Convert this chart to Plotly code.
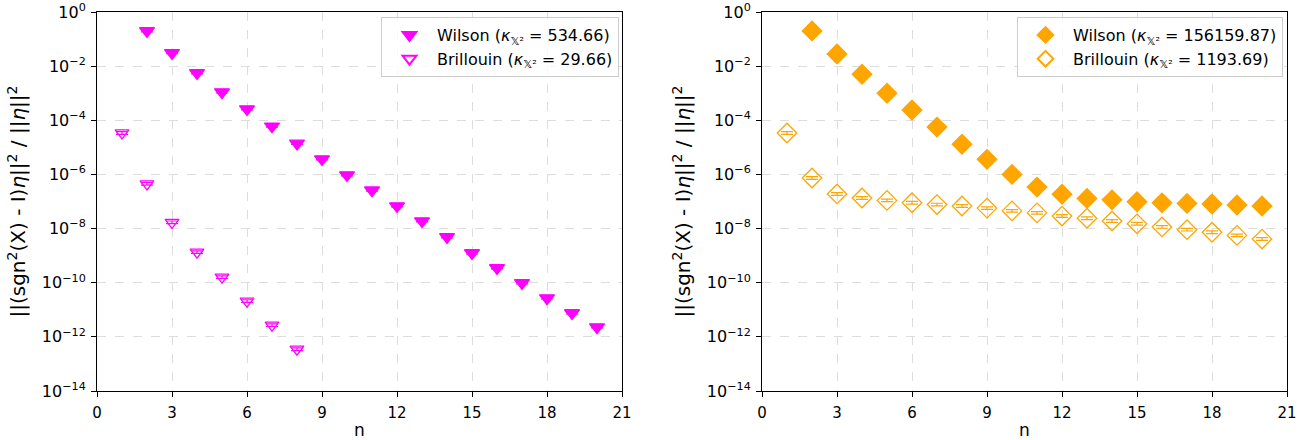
import plotly.graph_objects as go

# ---------------- data ----------------
n_wilson = list(range(2, 21))
n_brill_left = list(range(1, 9))
n_brill_right = list(range(1, 21))

wilson_left = [0.2, 0.031, 5.6e-3, 1.1e-3, 2.6e-4, 6.0e-5, 1.4e-5, 3.7e-6, 9.5e-7, 2.6e-7,
               6.8e-8, 1.9e-8, 4.9e-9, 1.25e-9, 3.5e-10, 9.8e-11, 2.7e-11, 7.6e-12, 2.3e-12]
brill_left = [3.4e-5, 4.5e-7, 1.7e-8, 1.35e-9, 1.6e-10, 2.1e-11, 2.7e-12, 3.5e-13]

wilson_right = [0.2, 0.028, 5.0e-3, 1.0e-3, 2.4e-4, 5.6e-5, 1.3e-5, 3.6e-6, 1.0e-6, 3.4e-7,
                1.85e-7, 1.3e-7, 1.15e-7, 9.8e-8, 8.9e-8, 8.5e-8, 8.1e-8, 7.4e-8, 6.8e-8]
brill_right = [3.4e-5, 7.4e-7, 1.9e-7, 1.35e-7, 1.1e-7, 9.0e-8, 7.7e-8, 6.8e-8, 5.7e-8, 4.5e-8,
               3.8e-8, 2.9e-8, 2.4e-8, 1.9e-8, 1.5e-8, 1.15e-8, 9.1e-9, 7.3e-9, 5.6e-9, 4.1e-9]

# relative error estimates (small)
err_rel_wilson = 0.08
err_rel_brill = 0.12

kappa_left = ["534.66", "29.66"]
kappa_right = ["156159.87", "1193.69"]

x_ticks = [0, 3, 6, 9, 12, 15, 18, 21]
y_exps = [0, -2, -4, -6, -8, -10, -12, -14]

MAGENTA = "#ff00ff"
ORANGE = "#ffa500"
FONT = "DejaVu Sans"

def lab(name, k):
    return f"{name} (<i>κ</i><sub>𝕏²</sub> = {k})"

fig = go.Figure()

def add(x, y, rel, color, symbol, size, name, xa, ya, legend):
    fig.add_trace(go.Scatter(
        x=x, y=y, mode="markers", name=name,
        xaxis=xa, yaxis=ya, legend=legend,
        marker=dict(symbol=symbol, size=size, color=color,
                    line=dict(color=color, width=1.3)),
        error_y=dict(type="data", array=[v * rel for v in y], arrayminus=[v * rel / (1 + rel) for v in y],
                     color=color, thickness=1.2, width=6, visible=True),
    ))

add(n_wilson, wilson_left, err_rel_wilson, MAGENTA, "triangle-down", 13,
    lab("Wilson", kappa_left[0]), "x", "y", "legend")
add(n_brill_left, brill_left, err_rel_brill, MAGENTA, "triangle-down-open", 12,
    lab("Brillouin", kappa_left[1]), "x", "y", "legend")
add(n_wilson, wilson_right, err_rel_wilson, ORANGE, "diamond", 15,
    lab("Wilson", kappa_right[0]), "x2", "y2", "legend2")
add(n_brill_right, brill_right, err_rel_brill, ORANGE, "diamond-open", 15,
    lab("Brillouin", kappa_right[1]), "x2", "y2", "legend2")

W, H = 1313, 440
xd1 = [97 / W, 622 / W]
xd2 = [762 / W, 1287 / W]
yd = [1 - 391 / H, 1 - 12 / H]

axis_common = dict(
    showline=True, linecolor="black", linewidth=1, mirror=True,
    ticks="outside", ticklen=5, tickcolor="black",
    showgrid=True, gridcolor="#dddddd", griddash="dash", gridwidth=1,
    zeroline=False, automargin=False,
)

ytickvals = [10 ** e for e in y_exps]
yticktext = [f"10<sup>{'−' + str(-e) if e < 0 else e}</sup>" for e in y_exps]
ytitle = "||(sgn<sup>2</sup>(X) - I)<i>η</i>||<sup>2</sup> / ||<i>η</i>||<sup>2</sup>"

for i, (xd, xa, ya) in enumerate([(xd1, "xaxis", "yaxis"), (xd2, "xaxis2", "yaxis2")]):
    anchor_y = "y" if i == 0 else "y2"
    anchor_x = "x" if i == 0 else "x2"
    fig.layout[xa] = dict(domain=xd, anchor=anchor_y, range=[0, 21], tickvals=x_ticks,
                          tickfont=dict(family=FONT, size=15, color="black"),
                          ticklabelstandoff=3,
                          title=dict(text="n", font=dict(family=FONT, size=17, color="black"), standoff=6),
                          **axis_common)
    fig.layout[ya] = dict(domain=yd, anchor=anchor_x, type="log", range=[-14, 0],
                          tickvals=ytickvals, ticktext=yticktext,
                          tickfont=dict(family=FONT, size=16, color="black"),
                          ticklabelstandoff=2,
                          title=dict(text=ytitle, font=dict(family=FONT, size=20, color="black"), standoff=10),
                          **axis_common)

leg_common = dict(bgcolor="rgba(255,255,255,0.8)", bordercolor="#cccccc", borderwidth=1,
                  font=dict(family=FONT, size=16, color="black"),
                  xanchor="right", yanchor="top", itemsizing="constant", tracegroupgap=0,
                  itemwidth=45)
fig.update_layout(
    width=W, height=H, margin=dict(l=0, r=0, t=0, b=0),
    plot_bgcolor="white", paper_bgcolor="white",
    font=dict(family=FONT, size=14, color="black"),
    showlegend=True,
    legend=dict(x=619 / W, y=1 - 17 / H, **leg_common),
    legend2=dict(x=1283 / W, y=1 - 17 / H, **leg_common),
)

fig.write_html("out.html")
